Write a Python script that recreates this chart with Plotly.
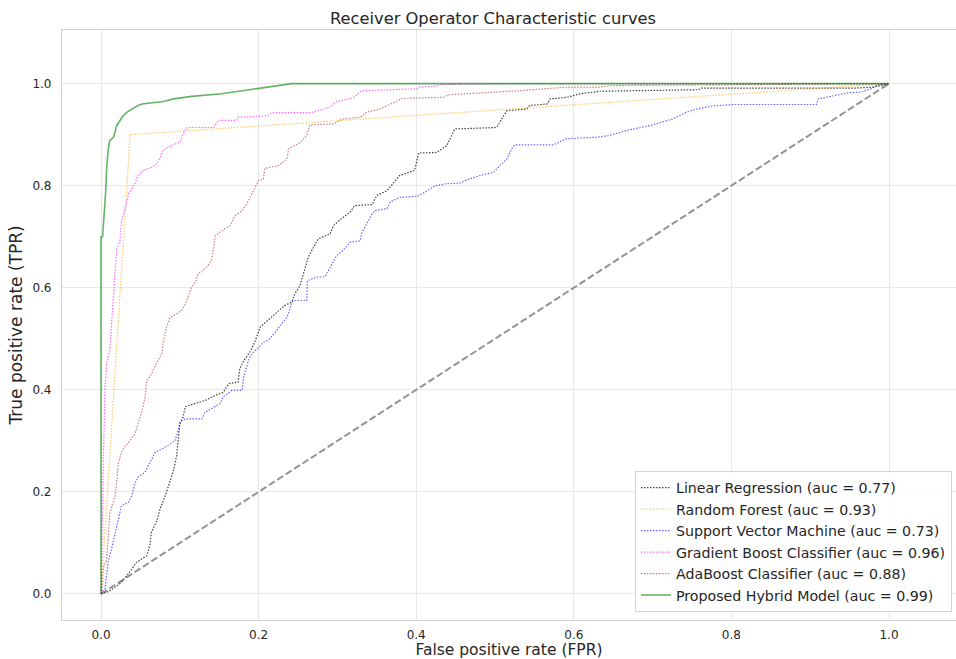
import plotly.graph_objects as go

# ---- data ----
lr_fpr = [0.0, 0.01, 0.024, 0.035, 0.045, 0.058, 0.062, 0.064, 0.071, 0.075, 0.081, 0.088, 0.092, 0.096, 0.098,
          0.100, 0.104, 0.107, 0.119, 0.132, 0.145, 0.155, 0.162, 0.174, 0.176, 0.181, 0.189, 0.195, 0.202,
          0.212, 0.223, 0.233, 0.242, 0.246, 0.2525, 0.259, 0.263, 0.272, 0.276, 0.291, 0.295, 0.305, 0.316,
          0.322, 0.344, 0.350, 0.363, 0.379, 0.398, 0.403, 0.426, 0.439, 0.449, 0.502, 0.515, 0.540, 0.544,
          0.566, 0.570, 0.591, 0.608, 0.633, 0.758, 0.762, 0.954, 0.980, 0.997, 1.0]
lr_tpr = [0.0, 0.005, 0.02, 0.04, 0.062, 0.075, 0.095, 0.121, 0.144, 0.167, 0.19, 0.222, 0.242, 0.271, 0.30,
          0.333, 0.346, 0.367, 0.373, 0.379, 0.389, 0.395, 0.412, 0.415, 0.441, 0.457, 0.474, 0.493, 0.523,
          0.536, 0.552, 0.565, 0.572, 0.588, 0.604, 0.637, 0.66, 0.686, 0.696, 0.706, 0.722, 0.735, 0.748,
          0.761, 0.763, 0.781, 0.79, 0.82, 0.83, 0.864, 0.865, 0.879, 0.911, 0.914, 0.947, 0.95, 0.957,
          0.96, 0.97, 0.973, 0.98, 0.985, 0.988, 0.991, 0.991, 0.993, 1.0, 1.0]

rf_fpr = [0.0, 0.037, 1.0]
rf_tpr = [0.0, 0.900, 1.0]

svm_fpr = [0.0, 0.001, 0.005, 0.007, 0.009, 0.014, 0.018, 0.022, 0.026, 0.035, 0.039, 0.043, 0.047, 0.056,
           0.060, 0.064, 0.069, 0.077, 0.085, 0.094, 0.098, 0.100, 0.107, 0.128, 0.132, 0.140, 0.151, 0.155,
           0.166, 0.179, 0.181, 0.187, 0.191, 0.200, 0.206, 0.212, 0.223, 0.229, 0.236, 0.240, 0.242, 0.246,
           0.261, 0.262, 0.274, 0.284, 0.293, 0.299, 0.307, 0.316, 0.329, 0.331, 0.337, 0.344, 0.348, 0.363,
           0.367, 0.379, 0.401, 0.411, 0.424, 0.439, 0.456, 0.462, 0.481, 0.498, 0.506, 0.515, 0.521, 0.525,
           0.574, 0.587, 0.591, 0.629, 0.644, 0.667, 0.697, 0.726, 0.743, 0.756, 0.775, 0.802, 0.908, 0.910,
           0.948, 0.963, 0.978, 0.984, 1.0]
svm_tpr = [0.0, 0.004, 0.01, 0.033, 0.062, 0.092, 0.118, 0.144, 0.173, 0.18, 0.193, 0.216, 0.229, 0.239,
           0.252, 0.265, 0.278, 0.284, 0.291, 0.301, 0.32, 0.337, 0.343, 0.343, 0.356, 0.363, 0.373, 0.386,
           0.399, 0.399, 0.425, 0.457, 0.47, 0.483, 0.493, 0.497, 0.516, 0.529, 0.542, 0.559, 0.572, 0.575,
           0.575, 0.614, 0.621, 0.621, 0.647, 0.663, 0.673, 0.689, 0.692, 0.709, 0.725, 0.745, 0.751, 0.755,
           0.768, 0.777, 0.779, 0.787, 0.80, 0.804, 0.805, 0.81, 0.82, 0.826, 0.839, 0.852, 0.872, 0.88,
           0.88, 0.888, 0.892, 0.895, 0.898, 0.908, 0.918, 0.931, 0.944, 0.95, 0.956, 0.959, 0.959, 0.97,
           0.982, 0.983, 0.99, 0.996, 1.0]

gb_fpr = [0.0, 0.001, 0.003, 0.005, 0.007, 0.011, 0.014, 0.016, 0.018, 0.020, 0.024, 0.026, 0.030, 0.035,
          0.039, 0.043, 0.047, 0.054, 0.064, 0.071, 0.075, 0.079, 0.090, 0.100, 0.107, 0.111, 0.143, 0.147,
          0.149, 0.172, 0.174, 0.212, 0.217, 0.267, 0.274, 0.291, 0.299, 0.320, 0.331, 0.401, 0.403, 0.426,
          0.430, 0.519, 1.0]
gb_tpr = [0.0, 0.10, 0.261, 0.40, 0.451, 0.477, 0.536, 0.588, 0.634, 0.676, 0.692, 0.732, 0.751, 0.784,
          0.794, 0.804, 0.82, 0.83, 0.836, 0.843, 0.855, 0.87, 0.879, 0.885, 0.911, 0.914, 0.914, 0.924,
          0.928, 0.928, 0.934, 0.937, 0.943, 0.943, 0.946, 0.954, 0.965, 0.972, 0.986, 0.99, 0.993, 0.995,
          0.998, 1.0, 1.0]

ada_fpr = [0.0, 0.001, 0.003, 0.007, 0.009, 0.011, 0.014, 0.016, 0.018, 0.020, 0.022, 0.026, 0.030, 0.037,
           0.043, 0.047, 0.052, 0.056, 0.058, 0.064, 0.071, 0.077, 0.079, 0.083, 0.088, 0.096, 0.102, 0.107,
           0.111, 0.115, 0.121, 0.123, 0.134, 0.140, 0.143, 0.145, 0.151, 0.164, 0.170, 0.179, 0.185, 0.193,
           0.200, 0.206, 0.208, 0.225, 0.236, 0.238, 0.246, 0.2525, 0.261, 0.265, 0.295, 0.307, 0.329, 0.337,
           0.354, 0.371, 0.382, 0.434, 0.441, 0.530, 0.591, 0.633, 0.646, 1.0]
ada_tpr = [0.0, 0.007, 0.052, 0.066, 0.105, 0.157, 0.173, 0.186, 0.193, 0.222, 0.255, 0.278, 0.288, 0.301,
           0.314, 0.333, 0.359, 0.386, 0.418, 0.431, 0.454, 0.47, 0.493, 0.523, 0.542, 0.549, 0.555, 0.568,
           0.585, 0.601, 0.614, 0.627, 0.64, 0.653, 0.679, 0.702, 0.709, 0.722, 0.741, 0.751, 0.764, 0.787,
           0.81, 0.813, 0.834, 0.839, 0.852, 0.872, 0.879, 0.884, 0.898, 0.919, 0.921, 0.931, 0.934, 0.944,
           0.95, 0.963, 0.971, 0.973, 0.978, 0.986, 0.993, 0.993, 0.996, 1.0]

hyb_fpr = [0.0, 0.0, 0.002, 0.003, 0.005, 0.006, 0.007, 0.009, 0.011, 0.016, 0.020, 0.028, 0.033, 0.039,
           0.047, 0.052, 0.079, 0.092, 0.115, 0.153, 0.179, 0.206, 0.242, 1.0]
hyb_tpr = [0.0, 0.70, 0.70, 0.72, 0.77, 0.79, 0.83, 0.869, 0.888, 0.895, 0.918, 0.937, 0.944, 0.95,
           0.957, 0.96, 0.965, 0.97, 0.975, 0.98, 0.986, 0.993, 1.0, 1.0]

diag = [0.0, 1.0]

names = ["Linear Regression (auc = 0.77)", "Random Forest (auc = 0.93)",
         "Support Vector Machine (auc = 0.73)", "Gradient Boost Classifier (auc = 0.96)",
         "AdaBoost Classifier (auc = 0.88)", "Proposed Hybrid Model (auc = 0.99)"]

series = [
    (lr_fpr, lr_tpr, "rgba(0,0,0,0.75)", "1.5px,1.5px", 1.2),
    (rf_fpr, rf_tpr, "rgba(255,165,0,0.6)", "1.5px,1.5px", 1.2),
    (svm_fpr, svm_tpr, "rgba(0,0,255,0.6)", "1.5px,1.5px", 1.2),
    (gb_fpr, gb_tpr, "rgba(255,0,255,0.6)", "1.5px,1.5px", 1.2),
    (ada_fpr, ada_tpr, "rgba(165,42,42,0.6)", "1.5px,1.5px", 1.2),
    (hyb_fpr, hyb_tpr, "rgba(0,128,0,0.6)", "solid", 1.6),
]

fig = go.Figure()
fig.add_trace(go.Scatter(x=diag, y=diag, mode="lines", showlegend=False,
                         line=dict(color="rgba(128,128,128,0.85)", width=2, dash="7px,3px")))
for i, ((fx, ty, col, dash, w), nm) in enumerate(zip(series, names)):
    fig.add_trace(go.Scatter(x=fx, y=ty, mode="lines", name=nm, legendgroup=f"g{i}",
                             line=dict(color=col, width=w, dash=dash)))

font_family = "DejaVu Sans"
txt = "#262626"
fig.update_layout(
    width=956, height=659,
    margin=dict(l=62, r=0, t=30, b=39, autoexpand=False),
    paper_bgcolor="white", plot_bgcolor="white",
    font=dict(family=font_family, size=12, color=txt),
    title=dict(text="Receiver Operator Characteristic curves", x=493 / 956, xanchor="center",
               y=1 - 18 / 659, yanchor="middle", font=dict(size=16.3, color=txt)),
    legend=dict(x=0.9955, y=0.0136, xanchor="right", yanchor="bottom",
                bgcolor="rgba(255,255,255,0.85)", bordercolor="#d5d5d5", borderwidth=1,
                font=dict(size=14.2, color=txt), itemwidth=30, tracegroupgap=0),
)
fig.update_xaxes(range=[-0.0495, 1.085], tickvals=[0, 0.2, 0.4, 0.6, 0.8, 1.0], tickformat=".1f",
                 showgrid=True, gridcolor="#e8e8e8", gridwidth=1, zeroline=False, automargin=False,
                 showline=True, linecolor="#d0d0d0", linewidth=1.2, mirror=True,
                 ticks="outside", ticklen=3, tickcolor="rgba(0,0,0,0)",
                 title=dict(text="False positive rate (FPR)", font=dict(size=15.5), standoff=2),
                 tickfont=dict(size=12))
fig.update_yaxes(range=[-0.051, 1.105], tickvals=[0, 0.2, 0.4, 0.6, 0.8, 1.0], tickformat=".1f",
                 showgrid=True, gridcolor="#e8e8e8", gridwidth=1, zeroline=False, automargin=False,
                 showline=True, linecolor="#d0d0d0", linewidth=1.2, mirror=True,
                 ticks="outside", ticklen=7, tickcolor="rgba(0,0,0,0)",
                 title=dict(text="True positive rate (TPR)", font=dict(size=17), standoff=5),
                 tickfont=dict(size=12))

fig.write_html("out.html", config={"displayModeBar": False},
               post_script="document.body.style.margin='0px';")
